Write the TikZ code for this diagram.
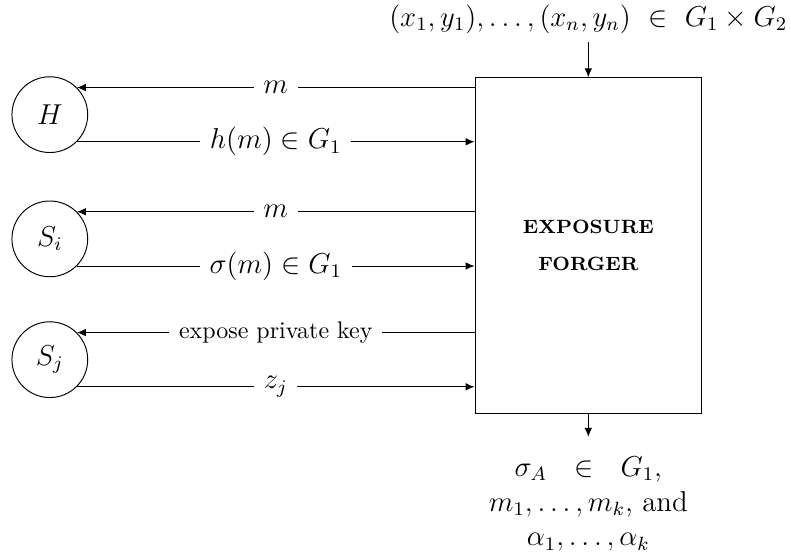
\documentclass[tikz,border=0pt]{standalone}
\usepackage{amssymb}
\usepackage{tikz}
\usetikzlibrary{arrows.meta, positioning}
\tikzset{
  party/.style  = {circle, draw, thin, minimum size=11.1mm, inner sep=0pt, font=\large},
  forger/.style = {rectangle, draw, thin, minimum width=33.2mm, minimum height=49.2mm,
                   align=center, font=\footnotesize\bfseries},
  msg/.style    = {fill=white, inner sep=4pt, font=\large},
  iotext/.style = {align=center, inner sep=0pt, font=\large},
  flow/.style   = {-{Latex[length=1.3mm, width=1.1mm]}, thin},
}

\begin{document}
\begin{tikzpicture}[x=1mm, y=1mm]
  \useasboundingbox (0,0) rectangle (115.9,81.7);
  \node[forger] (fg) at (86.2,45.7) {EXPOSURE\\[6pt]FORGER};
  \foreach \nm/\lb/\yy in {H/{H}/64.9, Si/{S_i}/46.7, Sj/{S_j}/29.0}{
    \node[party] (\nm) at (7.3,\yy) {$\lb$};
  }
  % queries and answers
  \draw[flow] (H.45 -| fg.west) -- node[msg] {$m$} (H.45);
  \draw[flow] (H.-45) -- node[msg] {$h(m) \in G_1$} (H.-45 -| fg.west);
  \draw[flow] (Si.45 -| fg.west) -- node[msg] {$m$} (Si.45);
  \draw[flow] (Si.-45) -- node[msg] {$\sigma(m) \in G_1$} (Si.-45 -| fg.west);
  \draw[flow] (Sj.45 -| fg.west) -- node[msg, font=\normalsize] {expose private key} (Sj.45);
  \draw[flow] (Sj.-45) -- node[msg] {$z_j$} (Sj.-45 -| fg.west);
  % input and output
  \node[iotext, outer sep=1.3mm] (inp) at (86.2,78.9) {$(x_1,y_1),\ldots,(x_n,y_n)\ \in\ G_1\times G_2$};
  \draw[flow] (inp) -- (fg);
  \node[iotext, anchor=north, outer sep=2.9mm] (res) at (86.2,17.7)
    {$\sigma_A\hspace{8pt}\in\hspace{8pt}G_1$,\\[0.5pt]$m_1,\ldots,m_k$, and\\[0.5pt]$\alpha_1,\ldots,\alpha_k$};
  \draw[flow] (fg) -- (res);
\end{tikzpicture}
\end{document}
